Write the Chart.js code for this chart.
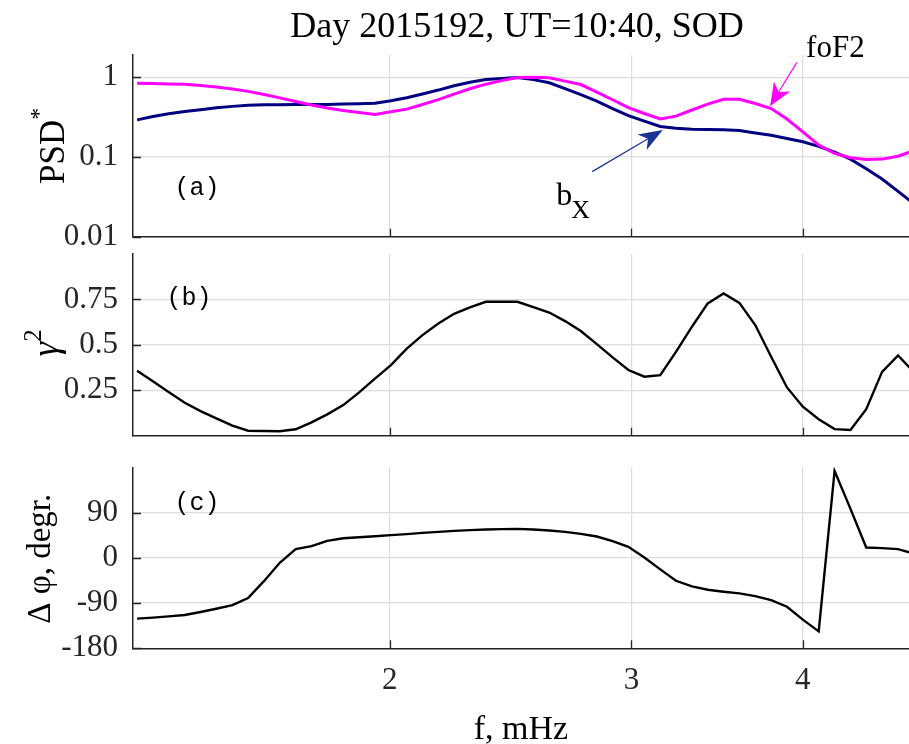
<!DOCTYPE html>
<html>
<head>
<meta charset="utf-8">
<script src="https://cdn.jsdelivr.net/npm/chart.js@4.4.0/dist/chart.umd.min.js"></script>
<style>
html, body { margin: 0; padding: 0; background: #ffffff; }
#wrap { position: relative; width: 909px; height: 744px; overflow: hidden; background: #ffffff; }
canvas { position: absolute; left: 0; top: 0; }
</style>
</head>
<body>
<div id="wrap">
<canvas id="cA" width="909" height="744"></canvas>
<canvas id="cB" width="909" height="744"></canvas>
<canvas id="cC" width="909" height="744"></canvas>
</div>
<script>
// ---------------- data ----------------
const titleText = 'Day 2015192, UT=10:40, SOD';
const freq = [1.309,1.344,1.380,1.418,1.456,1.495,1.536,1.577,1.620,1.663,
              1.708,1.754,1.801,1.850,1.900,1.951,2.004,2.058,2.113,2.170,
              2.228,2.288,2.350,2.413,2.478,2.545,2.614,2.684,2.756,2.831,
              2.907,2.985,3.066,3.149,3.233,3.321,3.410,3.502,3.596,3.693,
              3.793,3.895,4.000,4.108,4.219,4.333,4.449,4.569,4.693,4.819];
const psdBx = [0.292,0.321,0.348,0.371,0.392,0.414,0.431,0.445,0.451,0.453,
               0.456,0.456,0.456,0.460,0.465,0.472,0.508,0.554,0.615,0.690,
               0.783,0.863,0.939,0.966,0.990,0.933,0.853,0.718,0.604,0.500,
               0.404,0.330,0.282,0.241,0.229,0.223,0.221,0.219,0.214,0.200,
               0.187,0.170,0.155,0.136,0.115,0.094,0.071,0.053,0.037,0.026];
const psdFoF2 = [0.841,0.834,0.825,0.815,0.785,0.756,0.710,0.665,0.606,0.551,
                 0.497,0.448,0.411,0.382,0.361,0.341,0.369,0.398,0.455,0.523,
                 0.615,0.716,0.818,0.907,0.990,1.000,0.985,0.894,0.810,0.650,
                 0.522,0.416,0.351,0.299,0.325,0.388,0.460,0.530,0.530,0.468,
                 0.405,0.299,0.206,0.141,0.111,0.098,0.093,0.094,0.102,0.120];
const coherence = [0.358,0.300,0.241,0.182,0.136,0.096,0.056,0.028,0.026,0.025,
                   0.036,0.074,0.118,0.169,0.239,0.314,0.389,0.479,0.554,0.618,
                   0.671,0.706,0.737,0.737,0.737,0.708,0.678,0.631,0.576,0.504,
                   0.431,0.362,0.325,0.334,0.462,0.600,0.728,0.783,0.731,0.609,
                   0.435,0.266,0.160,0.091,0.037,0.032,0.146,0.352,0.442,0.350];
const phase = [-121,-119,-116.5,-113.8,-107.9,-101.3,-94,-80,-46,-10,
               17.2,23.2,33.8,39,41,43,45,47,49.6,51.6,
               53.6,55,56.3,57,57.6,56.3,54.3,51.6,47.6,42.4,
               33,21.8,0.5,-23,-45.7,-56.9,-63.5,-67.5,-70.8,-76.1,
               -84,-97.3,-123,-146.3,172.7,97.3,20.5,19.2,17.2,8.6];
const xTicks = [2, 3, 4];
const xTickLabels = ['2', '3', '4'];
const psdTicks = [0.01, 0.1, 1];
const psdTickLabels = ['0.01', '0.1', '1'];
const cohTicks = [0.25, 0.5, 0.75];
const cohTickLabels = ['0.25', '0.5', '0.75'];
const phaseTicks = [-180, -90, 0, 90];
const phaseTickLabels = ['-180', '-90', '0', '90'];
const seriesNames = ['b_X', 'foF2'];

// ---------------- styling ----------------
const SERIF = '"Liberation Serif", "Times New Roman", Times, serif';
const MONO = '"Liberation Mono", "Courier New", Courier, monospace';
const AXIS = '#262626';
const GRID = '#dcdcdc';
const NAVY = '#000080';
const MAGENTA = '#ff00ff';
const X_MIN = 1.306, X_MAX = 4.78;
const TICK_FONT = 31;
const PANELS = {
  a: { top: 55, bottom: 236.7 },
  b: { top: 254, bottom: 435.8 },
  c: { top: 467.3, bottom: 648.3 }
};
Chart.defaults.font.family = SERIF;

function pts(ys) { return freq.map((f, i) => ({ x: f, y: ys[i] })); }

function drawRotatedLabel(ctx, segs, baseX, centerY, color) {
  ctx.save();
  ctx.fillStyle = color;
  ctx.textBaseline = 'alphabetic';
  ctx.textAlign = 'left';
  let total = 0;
  const fontOf = s => `${s.style || ''} ${s.size}px ${s.family || SERIF}`;
  const widths = segs.map(s => {
    ctx.font = fontOf(s);
    const w = ctx.measureText(s.text).width;
    total += w;
    return w;
  });
  ctx.translate(baseX, centerY);
  ctx.rotate(-Math.PI / 2);
  let u = -total / 2;
  segs.forEach((s, i) => {
    ctx.font = fontOf(s);
    ctx.fillText(s.text, u, -(s.raise || 0));
    u += widths[i];
  });
  ctx.restore();
}

function drawArrow(ctx, x0, y0, x1, y1, color, lw, len, half, notch) {
  const dx = x1 - x0, dy = y1 - y0, L = Math.hypot(dx, dy);
  const ux = dx / L, uy = dy / L, px = -uy, py = ux;
  ctx.save();
  ctx.strokeStyle = color; ctx.fillStyle = color; ctx.lineWidth = lw;
  ctx.beginPath();
  ctx.moveTo(x0, y0);
  ctx.lineTo(x1 - ux * notch, y1 - uy * notch);
  ctx.stroke();
  ctx.beginPath();
  ctx.moveTo(x1, y1);
  ctx.lineTo(x1 - ux * len + px * half, y1 - uy * len + py * half);
  ctx.lineTo(x1 - ux * notch, y1 - uy * notch);
  ctx.lineTo(x1 - ux * len - px * half, y1 - uy * len - py * half);
  ctx.closePath();
  ctx.fill();
  ctx.restore();
}

const insideTicks = {
  id: 'insideTicks',
  afterDraw(chart) {
    const { ctx, chartArea: a, scales: { x, y } } = chart;
    ctx.save();
    ctx.strokeStyle = AXIS;
    ctx.lineWidth = 1.3;
    ctx.beginPath();
    x.ticks.forEach(t => {
      const px = Math.round(x.getPixelForValue(t.value)) + 0.5;
      ctx.moveTo(px, a.bottom); ctx.lineTo(px, a.bottom - 8);
    });
    y.ticks.forEach(t => {
      const py = Math.round(y.getPixelForValue(t.value)) + 0.5;
      ctx.moveTo(a.left, py); ctx.lineTo(a.left + 8, py);
    });
    ctx.stroke();
    ctx.restore();
  }
};

function makeChart(id, panel, datasets, yScale, showXLabels, annot) {
  return new Chart(document.getElementById(id), {
    type: 'line',
    data: { datasets },
    options: {
      responsive: false,
      animation: false,
      devicePixelRatio: 1,
      layout: { padding: { top: panel.top, left: 0, right: 0, bottom: 0 } },
      plugins: { legend: { display: false }, tooltip: { enabled: false }, title: { display: false } },
      elements: { point: { radius: 0 }, line: { tension: 0 } },
      scales: {
        x: {
          type: 'logarithmic', min: X_MIN, max: X_MAX,
          afterFit: s => { s.height = 744 - panel.bottom; },
          afterBuildTicks: s => { s.ticks = xTicks.map(v => ({ value: v })); },
          grid: { color: GRID, lineWidth: 1.2, drawTicks: false },
          border: { display: true, color: AXIS, width: 1.5 },
          ticks: {
            display: showXLabels, padding: 14, color: AXIS, font: { size: TICK_FONT },
            maxRotation: 0, autoSkip: false,
            callback: (v, i) => xTickLabels[i]
          }
        },
        y: Object.assign({
          afterFit: s => { s.width = 133; },
          grid: { color: GRID, lineWidth: 1.3, drawTicks: false },
          border: { display: true, color: AXIS, width: 1.5 }
        }, yScale)
      }
    },
    plugins: [insideTicks, annot]
  });
}

// ---------------- panel (a) ----------------
makeChart('cA', PANELS.a, [
  { label: seriesNames[1], data: pts(psdFoF2), borderColor: MAGENTA, borderWidth: 3, fill: false },
  { label: seriesNames[0], data: pts(psdBx), borderColor: NAVY, borderWidth: 3, fill: false }
], {
  type: 'logarithmic', min: 0.01, max: 1.9,
  afterBuildTicks: s => { s.ticks = psdTicks.map(v => ({ value: v })); },
  ticks: { padding: 15, color: AXIS, font: { size: TICK_FONT }, autoSkip: false, callback: (v, i) => psdTickLabels[i] }
}, false, {
  id: 'annotA',
  afterDraw(chart) {
    const { ctx, chartArea: a, scales: { x, y } } = chart;
    ctx.save();
    ctx.fillStyle = '#000';
    ctx.font = `36px ${SERIF}`;
    ctx.textAlign = 'center'; ctx.textBaseline = 'alphabetic';
    ctx.fillText(titleText, (a.left + a.right) / 2 - 4, a.top - 18);
    ctx.restore();

    drawRotatedLabel(ctx, [
      { text: 'PSD', size: 35 },
      { text: '*', size: 24, raise: 18 }
    ], 64, (a.top + a.bottom) / 2, '#000');

    ctx.save();
    ctx.fillStyle = '#000';
    ctx.font = `25px ${MONO}`;
    ctx.textAlign = 'left'; ctx.textBaseline = 'middle';
    ctx.fillText('(a)', x.getPixelForValue(1.394), y.getPixelForValue(0.0398));

    // foF2 annotation
    drawArrow(ctx, x.getPixelForValue(3.959), y.getPixelForValue(1.527),
              x.getPixelForValue(3.786), y.getPixelForValue(0.434), MAGENTA, 1.2, 23, 9.5, 16.5);
    ctx.fillStyle = '#000';
    ctx.font = `31px ${SERIF}`;
    ctx.textAlign = 'left'; ctx.textBaseline = 'alphabetic';
    ctx.fillText('foF2', x.getPixelForValue(4.022), y.getPixelForValue(1.80));

    // b_X annotation
    drawArrow(ctx, x.getPixelForValue(2.809), y.getPixelForValue(0.0655),
              x.getPixelForValue(3.162), y.getPixelForValue(0.2175), '#1a3494', 1.2, 24, 9, 17);
    const bx = x.getPixelForValue(2.645), by = y.getPixelForValue(0.0251);
    ctx.fillStyle = '#000';
    ctx.font = `32px ${SERIF}`;
    ctx.fillText('b', bx, by);
    const bw = ctx.measureText('b').width;
    ctx.font = `26px ${SERIF}`;
    ctx.fillText('X', bx + bw - 1, by + 13.5);
    ctx.restore();
  }
});

// ---------------- panel (b) ----------------
makeChart('cB', PANELS.b, [
  { label: 'gamma^2', data: pts(coherence), borderColor: '#000', borderWidth: 2.4, fill: false }
], {
  type: 'linear', min: 0, max: 1,
  afterBuildTicks: s => { s.ticks = cohTicks.map(v => ({ value: v })); },
  ticks: { padding: 15, color: AXIS, font: { size: TICK_FONT }, autoSkip: false, callback: (v, i) => cohTickLabels[i] }
}, false, {
  id: 'annotB',
  afterDraw(chart) {
    const { ctx, chartArea: a, scales: { x, y } } = chart;
    drawRotatedLabel(ctx, [
      { text: 'γ', size: 37, style: 'italic' },
      { text: '2', size: 25, raise: 17 }
    ], 58, (a.top + a.bottom) / 2 - 2, '#000');
    ctx.save();
    ctx.fillStyle = '#000';
    ctx.font = `25px ${MONO}`;
    ctx.textAlign = 'left'; ctx.textBaseline = 'middle';
    ctx.fillText('(b)', x.getPixelForValue(1.375), y.getPixelForValue(0.757));
    ctx.restore();
  }
});

// ---------------- panel (c) ----------------
makeChart('cC', PANELS.c, [
  { label: 'delta phi', data: pts(phase), borderColor: '#000', borderWidth: 2.4, fill: false }
], {
  type: 'linear', min: -180, max: 180,
  afterBuildTicks: s => { s.ticks = phaseTicks.map(v => ({ value: v })); },
  ticks: { padding: 15, color: AXIS, font: { size: TICK_FONT }, autoSkip: false, callback: (v, i) => phaseTickLabels[i] }
}, true, {
  id: 'annotC',
  afterDraw(chart) {
    const { ctx, chartArea: a, scales: { x, y } } = chart;
    drawRotatedLabel(ctx, [
      { text: 'Δ φ, degr.', size: 33 }
    ], 50, (a.top + a.bottom) / 2 + 1, '#000');
    ctx.save();
    ctx.fillStyle = '#000';
    ctx.font = `25px ${MONO}`;
    ctx.textAlign = 'left'; ctx.textBaseline = 'middle';
    ctx.fillText('(c)', x.getPixelForValue(1.394), y.getPixelForValue(109));
    ctx.font = `34px ${SERIF}`;
    ctx.textAlign = 'center'; ctx.textBaseline = 'alphabetic';
    ctx.fillText('f, mHz', (a.left + a.right) / 2, 739);
    ctx.restore();
  }
});
</script>
</body>
</html>
